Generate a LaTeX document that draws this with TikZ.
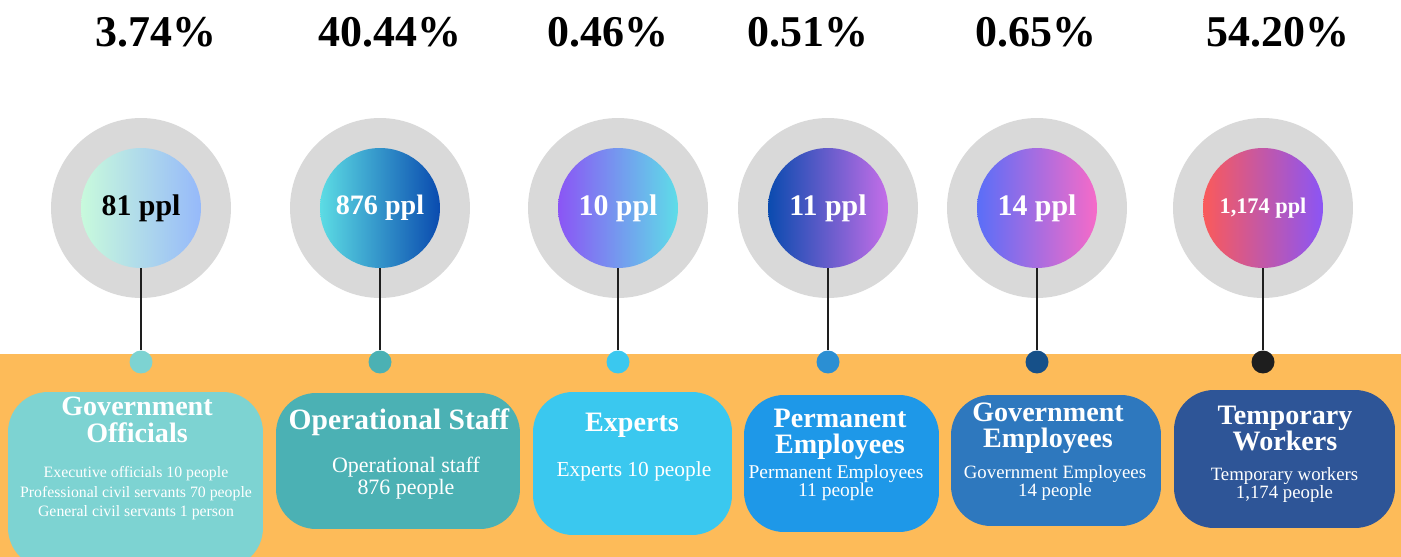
\documentclass[tikz,border=0pt]{standalone}
\usepackage{fontspec}
\setmainfont{Liberation Serif}
\usetikzlibrary{positioning}

\definecolor{bandorange}{HTML}{FDBB59}
\definecolor{ringgray}{HTML}{D9D9D9}
\definecolor{stemblack}{HTML}{1E1E1E}
\definecolor{officialsteal}{HTML}{7DD3D2}
\definecolor{staffteal}{HTML}{4BB1B4}
\definecolor{expertscyan}{HTML}{3AC8EF}
\definecolor{permanentblue}{HTML}{1E98E8}
\definecolor{employeesblue}{HTML}{2E78BE}
\definecolor{temporarynavy}{HTML}{2E5597}
\definecolor{permanentdot}{HTML}{2B8FD3}
\definecolor{employeesdot}{HTML}{165089}

\begin{document}
\begin{tikzpicture}[
    x=0.02cm, y=-0.02cm, % one unit per pixel, y going down
    pct/.style={font=\bfseries\fontsize{25}{30}\selectfont, anchor=base},
    ring/.style={circle, fill=ringgray, minimum size=3.6cm, inner sep=0pt},
    ball/.style={circle, minimum size=2.4cm, inner sep=0pt, text=white, font=\bfseries\fontsize{17}{20}\selectfont},
    stem/.style={line width=1.1pt, draw=stemblack},
    dot/.style={circle, minimum size=0.46cm, inner sep=0pt},
    card/.style={rectangle, rounded corners=0.8cm, inner sep=0pt},
    cardtitle/.style={text=white, align=center, anchor=base, font=\bfseries\fontsize{16}{15.3}\selectfont},
    carddetail/.style={text=white, align=center, anchor=base} % base = last line
]
\useasboundingbox (0,0) rectangle (1401,557);

% Percentages
\node[pct] (pct-officials) at (156,47) {3.74\%};
\node[pct] (pct-staff) at (390,47) {40.44\%};
\node[pct] (pct-experts) at (608,47) {0.46\%};
\node[pct] (pct-permanent) at (808,47) {0.51\%};
\node[pct] (pct-employees) at (1036,47) {0.65\%};
\node[pct] (pct-temporary) at (1278,47) {54.20\%};

% Rings and head counts
\node[ring] (ring-officials) at (141,208) {};
\node[ring] (ring-staff) at (380,208) {};
\node[ring] (ring-experts) at (618,208) {};
\node[ring] (ring-permanent) at (828,208) {};
\node[ring] (ring-employees) at (1037,208) {};
\node[ring] (ring-temporary) at (1263,208) {};

\node[ball, text=black, left color={rgb,255:red,200;green,250;blue,220}, right color={rgb,255:red,150;green,185;blue,250}] (ball-officials) at (ring-officials) {81 ppl};
\node[ball, font=\bfseries\fontsize{16}{20}\selectfont, left color={rgb,255:red,92;green,220;blue,228}, right color={rgb,255:red,10;green,75;blue,175}] (ball-staff) at (ring-staff) {876 ppl};
\node[ball, left color={rgb,255:red,139;green,85;blue,245}, right color={rgb,255:red,94;green,221;blue,232}] (ball-experts) at (ring-experts) {10 ppl};
\node[ball, left color={rgb,255:red,10;green,75;blue,175}, right color={rgb,255:red,196;green,110;blue,232}] (ball-permanent) at (ring-permanent) {11 ppl};
\node[ball, left color={rgb,255:red,90;green,110;blue,248}, right color={rgb,255:red,246;green,107;blue,200}] (ball-employees) at (ring-employees) {14 ppl};
\node[ball, font=\bfseries\fontsize{12.7}{15}\selectfont, left color={rgb,255:red,250;green,90;blue,90}, right color={rgb,255:red,139;green,85;blue,245}] (ball-temporary) at (ring-temporary) {1,174 ppl};

% Orange band
\fill[bandorange] (0,354) rectangle (1401,557);

% Dots on the band
\node[dot, fill=officialsteal] (dot-officials) at (141,362) {};
\node[dot, fill=staffteal] (dot-staff) at (380,362) {};
\node[dot, fill=expertscyan] (dot-experts) at (618,362) {};
\node[dot, fill=permanentdot] (dot-permanent) at (828,362) {};
\node[dot, fill=employeesdot] (dot-employees) at (1037,362) {};
\node[dot, fill=stemblack] (dot-temporary) at (1263,362) {};

% Stems
\draw[stem] (ball-officials.south) -- (dot-officials.north);
\draw[stem] (ball-staff.south) -- (dot-staff.north);
\draw[stem] (ball-experts.south) -- (dot-experts.north);
\draw[stem] (ball-permanent.south) -- (dot-permanent.north);
\draw[stem] (ball-employees.south) -- (dot-employees.north);
\draw[stem] (ball-temporary.south) -- (dot-temporary.north);

% Cards
\node[card, fill=officialsteal, minimum width=5.1cm, minimum height=3.52cm] (card-officials) at (135.5,480) {};
\node[card, fill=staffteal, minimum width=4.88cm, minimum height=2.72cm] (card-staff) at (398,461) {};
\node[card, fill=expertscyan, minimum width=3.98cm, minimum height=2.86cm] (card-experts) at (632.5,463.5) {};
\node[card, fill=permanentblue, minimum width=3.9cm, minimum height=2.74cm] (card-permanent) at (841.5,463.5) {};
\node[card, fill=employeesblue, minimum width=4.2cm, minimum height=2.62cm] (card-employees) at (1056,460.5) {};
\node[card, fill=temporarynavy, minimum width=4.42cm, minimum height=2.76cm] (card-temporary) at (1284.5,459) {};

% Card titles
\node[cardtitle] (title-officials) at (137,442) {Government\\Officials};
\node[cardtitle, font=\bfseries\fontsize{16.8}{15}\selectfont] (title-staff) at (399,430) {Operational Staff};
\node[cardtitle] (title-experts) at (632,432) {Experts};
\node[cardtitle] (title-permanent) at (840,454) {Permanent\\Employees};
\node[cardtitle] (title-employees) at (1048,448) {Government\\Employees};
\node[cardtitle] (title-temporary) at (1285,451) {Temporary\\Workers};

% Card details
\node[carddetail, font=\fontsize{9}{11.3}\selectfont] (detail-officials) at (136,517) {Executive officials 10 people\\Professional civil servants 70 people\\General civil servants 1 person};
\node[carddetail, font=\fontsize{12.5}{13}\selectfont] (detail-staff) at (406,495) {Operational staff\\876 people};
\node[carddetail, font=\fontsize{12.2}{13}\selectfont] (detail-experts) at (634,477) {Experts 10 people};
\node[carddetail, font=\fontsize{11.1}{10.8}\selectfont] (detail-permanent) at (836,497) {Permanent Employees\\11 people};
\node[carddetail, font=\fontsize{10.7}{9.6}\selectfont] (detail-employees) at (1055,497) {Government Employees\\14 people};
\node[carddetail, font=\fontsize{10.7}{10.8}\selectfont] (detail-temporary) at (1284.5,499) {Temporary workers\\1,174 people};

\end{tikzpicture}
\end{document}
